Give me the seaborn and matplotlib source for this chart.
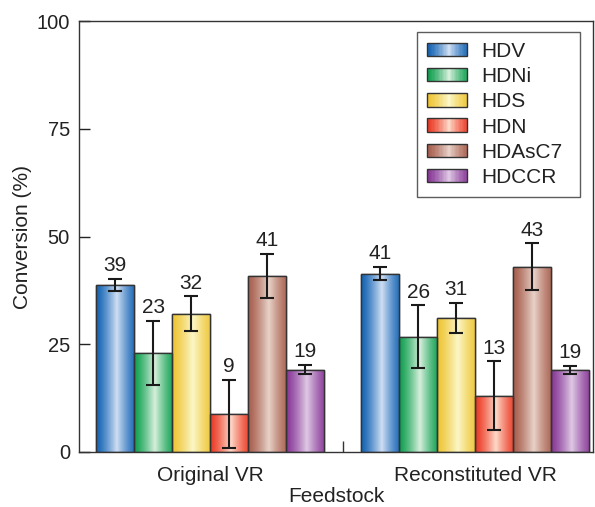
import numpy as np
import pandas as pd
import matplotlib
matplotlib.use("Agg")
import matplotlib.pyplot as plt
import matplotlib.colors as mcolors
from matplotlib.patches import Rectangle
from matplotlib.legend_handler import HandlerBase
import seaborn as sns

# data
feedstocks = ["Original VR", "Reconstituted VR"]
reactions = ["HDV", "HDNi", "HDS", "HDN", "HDAsC7", "HDCCR"]
orig_vals = [38.7, 23.0, 32.1, 8.9, 40.8, 19.1]
orig_err = [1.4, 7.4, 4.0, 7.9, 5.1, 1.1]
orig_labels = ["39", "23", "32", "9", "41", "19"]
recon_vals = [41.4, 26.7, 31.0, 13.1, 43.0, 19.0]
recon_err = [1.5, 7.3, 3.5, 7.9, 5.4, 1.0]
recon_labels = ["41", "26", "31", "13", "43", "19"]

# dark edge / light centre colours for each reaction
dark_cols = ["#1464b4", "#10a050", "#efc535", "#ec3a25", "#a85f4e", "#883897"]
light_cols = ["#cfdef3", "#d6efdc", "#fbf7c8", "#fdd9c9", "#e8d2c9", "#dfc9e5"]

df = pd.DataFrame({
    "Feedstock": np.repeat(feedstocks, len(reactions)),
    "Reaction": reactions * len(feedstocks),
    "Conversion": orig_vals + recon_vals,
})
errs = {("Original VR", r): e for r, e in zip(reactions, orig_err)}
errs.update({("Reconstituted VR", r): e for r, e in zip(reactions, recon_err)})
labs = {("Original VR", r): l for r, l in zip(reactions, orig_labels)}
labs.update({("Reconstituted VR", r): l for r, l in zip(reactions, recon_labels)})

sns.set_style("white")
plt.rcParams['font.family'] = ['Liberation Sans', 'DejaVu Sans']


def gradient_row(dark, light, n=64):
    d = np.array(mcolors.to_rgb(dark))
    l = np.array(mcolors.to_rgb(light))
    x = np.linspace(0, 1, n)
    f = 1 - np.clip(np.abs(x - 0.55) / 0.55, 0, 1)
    f = f ** 1.3
    return d[None, :] * (1 - f[:, None]) + l[None, :] * f[:, None]


class GradientHandler(HandlerBase):
    def __init__(self, dark, light):
        super().__init__()
        self.dark, self.light = dark, light

    def create_artists(self, legend, orig_handle, xdescent, ydescent,
                       width, height, fontsize, trans):
        n = 30
        cols = gradient_row(self.dark, self.light, n)
        arts = []
        for i in range(n):
            arts.append(Rectangle((-xdescent + width * i / n, -ydescent),
                                  width / n + 0.3, height, facecolor=cols[i],
                                  edgecolor="none", transform=trans))
        arts.append(Rectangle((-xdescent, -ydescent), width, height,
                              facecolor="none", edgecolor="#333333",
                              linewidth=1.0, transform=trans))
        return arts


fig = plt.figure(figsize=(5.95, 5.07), dpi=100)
ax = fig.add_axes([0.1328, 0.1085, 0.8639, 0.850])

sns.barplot(data=df, x="Feedstock", y="Conversion", hue="Reaction",
            palette=dark_cols, width=0.857, errorbar=None,
            edgecolor="#333333", linewidth=1.0, legend=False, ax=ax)

bar_conts = list(ax.containers)
for ci, cont in enumerate(bar_conts):
    img = gradient_row(dark_cols[ci], light_cols[ci])[None, :, :]
    for xi, bar in enumerate(cont):
        x0 = bar.get_x()
        w = bar.get_width()
        h = bar.get_height()
        im = ax.imshow(img, extent=[x0, x0 + w, 0, h], aspect="auto",
                       interpolation="bilinear", zorder=bar.get_zorder() + 0.1)
        im.set_clip_path(bar)
        ax.add_patch(Rectangle((x0, 0), w, h, facecolor="none",
                               edgecolor="#333333", linewidth=1.0,
                               zorder=bar.get_zorder() + 0.2))
        key = (feedstocks[xi], reactions[ci])
        xc = x0 + w / 2
        e = errs[key]
        ax.errorbar(xc, h, yerr=e, fmt="none", ecolor="#1a1a1a",
                    elinewidth=1.5, capsize=5, capthick=1.5, zorder=5)
        ax.text(xc, h + e + 0.9, labs[key], ha="center", va="bottom",
                fontsize=15, color="#222222", zorder=6)

ax.set_xlim(-0.494, 1.445)
ax.set_ylim(0, 100)
ax.set_yticks([0, 25, 50, 75, 100])
ax.set_xticks([0, 1])
ax.set_xticklabels(feedstocks)
ax.set_xticks([0.5], minor=True)
ax.tick_params(axis="x", which="major", length=0, labelsize=15, pad=10,
               colors="#222222")
ax.tick_params(axis="x", which="minor", direction="in", length=8, width=1,
               color="#333333", bottom=True)
ax.tick_params(axis="y", direction="in", length=8, width=1, left=True,
               labelsize=14.5, pad=6.5, colors="#222222")
for s in ax.spines.values():
    s.set_color("#333333")
    s.set_linewidth(1.0)

ax.set_ylabel("Conversion (%)", fontsize=15, color="#222222", labelpad=3)
ax.set_xlabel("Feedstock", fontsize=15, color="#222222", labelpad=1.5)

handles = [Rectangle((0, 0), 1, 1) for _ in reactions]
leg = ax.legend(handles, reactions,
                handler_map={h: GradientHandler(dark_cols[i], light_cols[i])
                             for i, h in enumerate(handles)},
                loc="upper left", bbox_to_anchor=(0.658, 0.0, 0.317, 0.9745),
                mode="expand",
                fontsize=15, frameon=True, fancybox=False,
                handlelength=1.92, handleheight=0.62, handletextpad=0.67,
                labelspacing=0.3, borderpad=0.47, borderaxespad=0)
leg.get_frame().set_edgecolor("#333333")
leg.get_frame().set_linewidth(1.0)
for t in leg.get_texts():
    t.set_color("#222222")

fig.savefig("out.png", dpi=100)
